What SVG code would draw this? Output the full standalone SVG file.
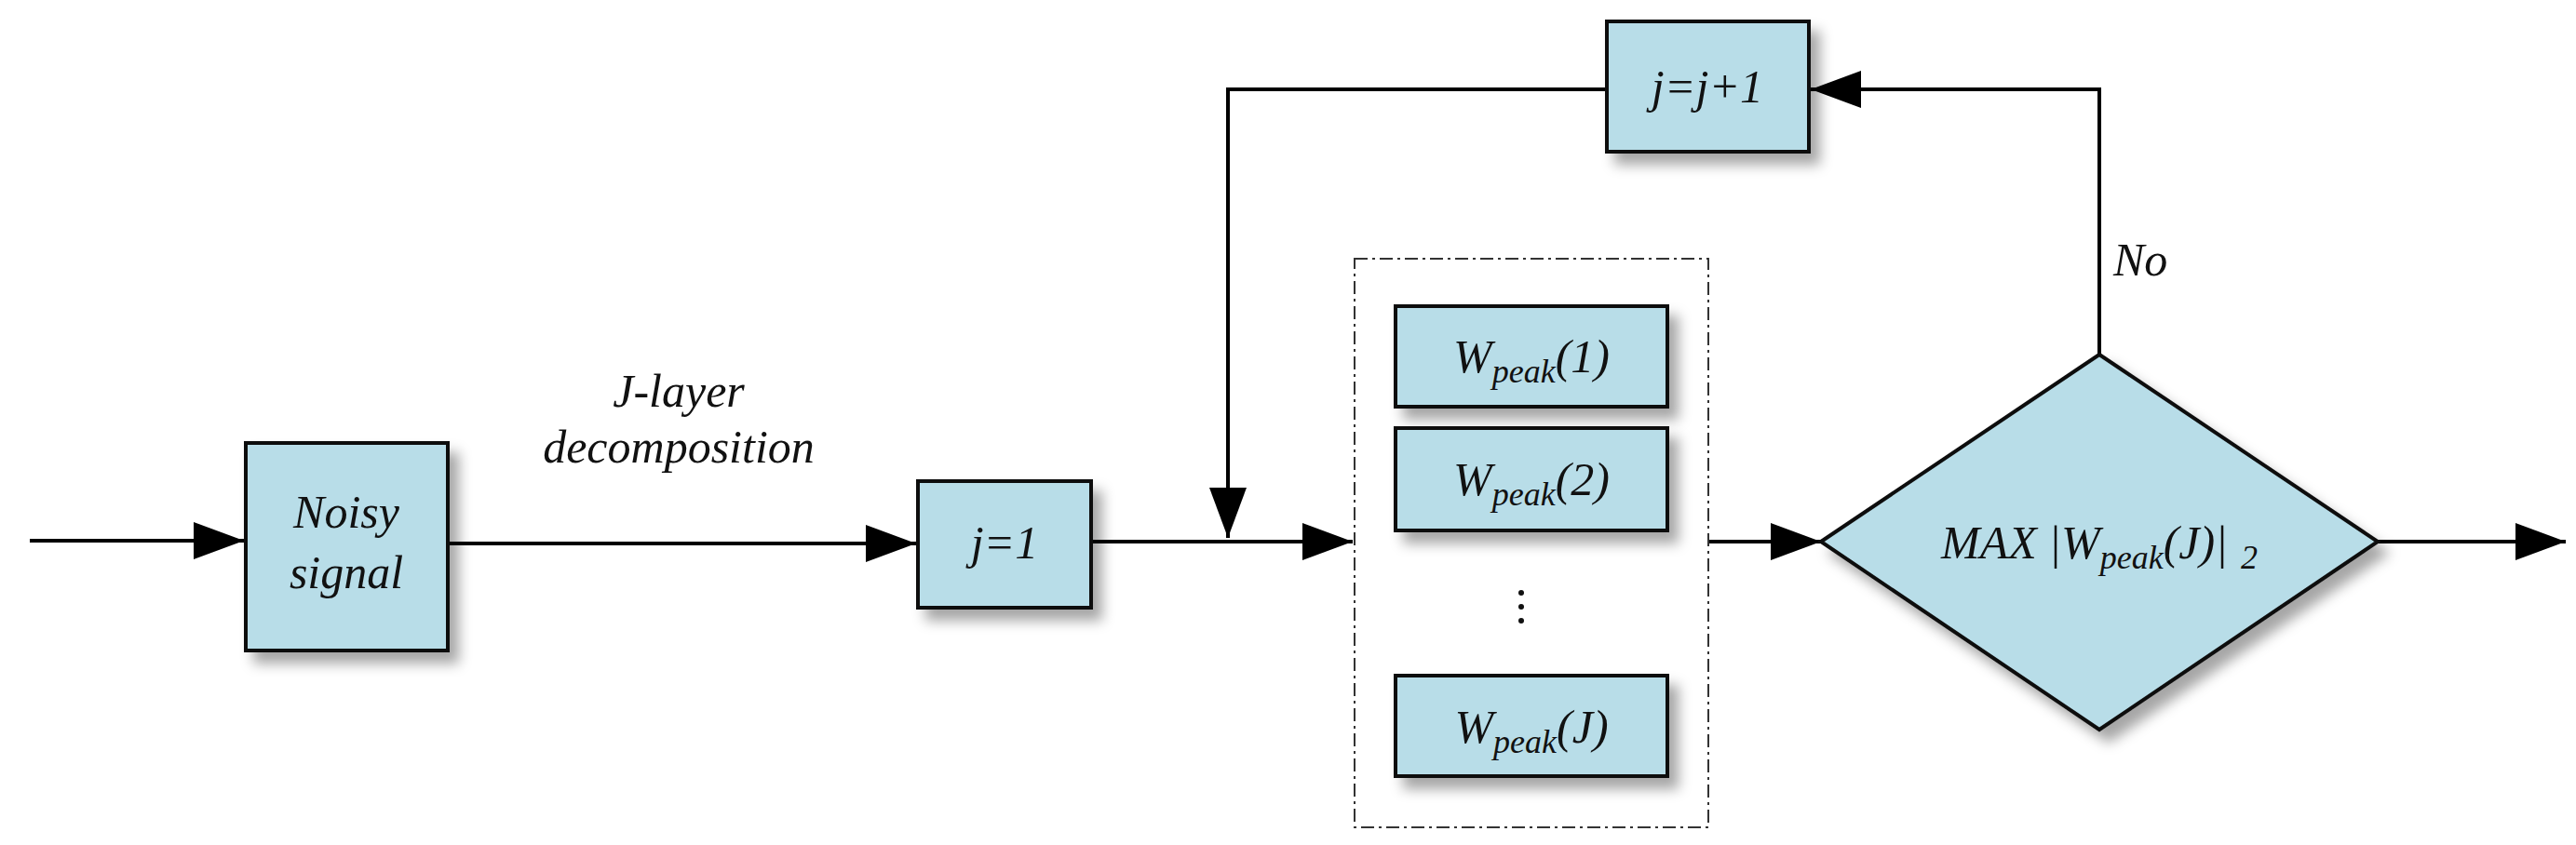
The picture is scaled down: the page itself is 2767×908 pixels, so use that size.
<svg xmlns="http://www.w3.org/2000/svg" width="2767" height="908" viewBox="0 0 2767 908">
<defs>
<filter id="sh" x="-20%" y="-20%" width="150%" height="150%"><feDropShadow dx="10" dy="12" stdDeviation="7" flood-color="#000" flood-opacity="0.35"/></filter>
<marker id="ah" markerUnits="userSpaceOnUse" markerWidth="56" markerHeight="40" refX="54" refY="20" orient="auto"><path d="M0,0 L54,20 L0,40 Z" fill="#000"/></marker>
</defs>
<style>
.box{fill:#b8dde8;stroke:#111;stroke-width:4;filter:url(#sh)}
.ln{fill:none;stroke:#000;stroke-width:4}
.t{font-family:"Liberation Serif",serif;font-style:italic;font-size:50px;fill:#111;text-anchor:middle}
.sub{font-size:36px}
</style>
<rect width="2767" height="908" fill="#fff"/>
<g id="connectors">
<line class="ln" x1="32" y1="581" x2="262" y2="581" marker-end="url(#ah)"/>
<line class="ln" x1="481" y1="584" x2="984" y2="584" marker-end="url(#ah)"/>
<line class="ln" x1="1172" y1="582" x2="1453" y2="582" marker-end="url(#ah)"/>
<polyline class="ln" points="1726,96 1319,96 1319,578" marker-end="url(#ah)"/>
<line class="ln" x1="1835" y1="582" x2="1956" y2="582" marker-end="url(#ah)"/>
<polyline class="ln" points="2255,381 2255,96 1945,96" marker-end="url(#ah)"/>
<line class="ln" x1="2554" y1="582" x2="2756" y2="582" marker-end="url(#ah)"/>
<text class="t" x="729" y="437">J-layer</text>
<text class="t" x="729" y="497">decomposition</text>
<text class="t" x="2270" y="296" text-anchor="start" style="text-anchor:start">No</text>
</g>
<g id="noisy"><rect class="box" x="264" y="476" width="217" height="223"/><text class="t" x="372" y="567">Noisy</text><text class="t" x="372" y="632">signal</text></g>
<g id="j1"><rect class="box" x="986" y="517" width="186" height="136"/><text class="t" x="1079" y="600">j=1</text></g>
<g id="jinc"><rect class="box" x="1726" y="23" width="217" height="140"/><text class="t" x="1834" y="110">j=j+1</text></g>
<g id="group"><rect x="1455" y="278" width="380" height="611" fill="none" stroke="#333" stroke-width="2" stroke-dasharray="14,5,3,5"/>
<circle cx="1634" cy="637" r="3" fill="#111"/><circle cx="1634" cy="652" r="3" fill="#111"/><circle cx="1634" cy="667" r="3" fill="#111"/></g>
<g id="w1"><rect class="box" x="1499" y="329" width="292" height="108"/><text class="t" x="1645" y="400" font-size="56">W<tspan class="sub" baseline-shift="-30%">peak</tspan>(1)</text></g>
<g id="w2"><rect class="box" x="1499" y="460" width="292" height="110"/><text class="t" x="1645" y="532" font-size="56">W<tspan class="sub" baseline-shift="-30%">peak</tspan>(2)</text></g>
<g id="wJ"><rect class="box" x="1499" y="726" width="292" height="108"/><text class="t" x="1645" y="798" font-size="56">W<tspan class="sub" baseline-shift="-30%">peak</tspan>(J)</text></g>
<g id="max"><polygon class="box" points="1956,582 2255,381 2554,582 2255,784"/><text class="t" x="2255" y="600" font-size="56">MAX  |W<tspan class="sub" baseline-shift="-30%">peak</tspan>(J)|<tspan class="sub" dx="14" baseline-shift="-30%">2</tspan></text></g>
</svg>
